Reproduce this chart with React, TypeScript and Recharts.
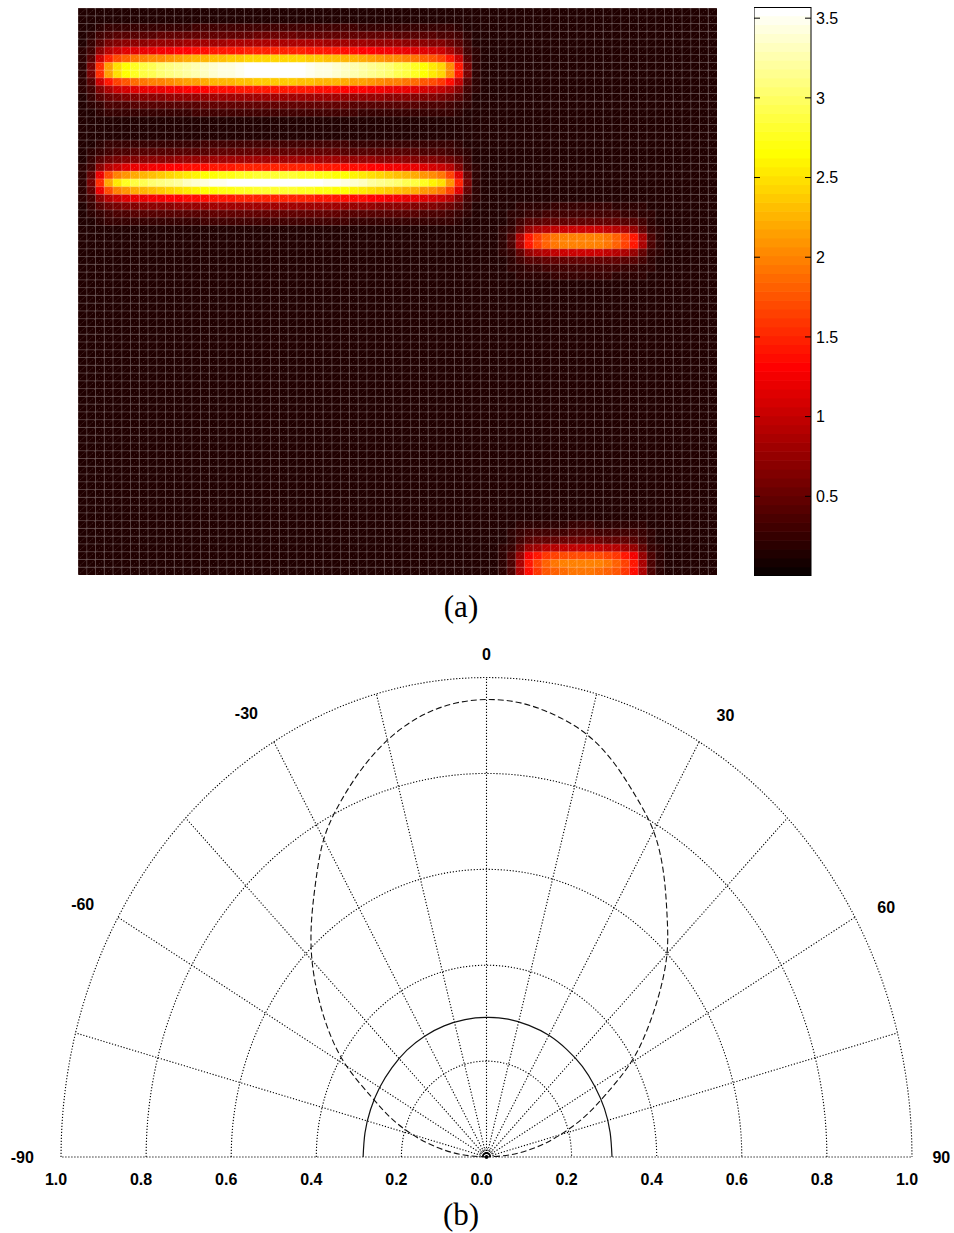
import React from 'react';
import {
  ScatterChart,
  Scatter,
  XAxis,
  YAxis,
  ComposedChart,
  Line,
  ReferenceLine,
  ReferenceDot,
} from 'recharts';

// ---------------- (a) heat map ----------------
const GRID_COLS = 73;
const GRID_ROWS = 73;
const COLOR_MAX = 3.57;
const BACKGROUND_LEVEL = 0.15;
const COLORBAR_TICKS = [0.5, 1, 1.5, 2, 2.5, 3, 3.5];
const COLOR_LEVELS = 64;

// four bright stripes: peak value, first row / first column of their profiles
const STRIPE_PEAKS = [3.55, 3.5, 1.95, 1.85];
const STRIPE_ROW_START = [2, 17, 25, 66];
const STRIPE_COL_START = [0, 0, 48, 48];

const TOP_ROWS = [0.04, 0.1, 0.2, 0.37, 0.64, 0.96, 0.96, 0.62, 0.36, 0.19, 0.09, 0.04];
const MIDDLE_ROWS = [0.04, 0.09, 0.19, 0.38, 0.76, 1.0, 0.76, 0.38, 0.19, 0.09, 0.04];
const RIGHT_ROWS = [0.04, 0.08, 0.18, 0.45, 0.95, 0.95, 0.45, 0.18, 0.08, 0.04];
const BOTTOM_ROWS = [0.04, 0.1, 0.2, 0.45, 0.85, 1.0, 0.95];

const LONG_COLS = [
  0.02, 0.12, 0.4, 0.58, 0.68, 0.74, 0.77, 0.8, 0.82, 0.84, 0.86, 0.88, 0.9, 0.92, 0.93,
  0.95, 0.96, 0.97, 0.98, 0.99, 1, 1, 1, 1, 1, 0.99, 0.98, 0.97, 0.96, 0.95, 0.93, 0.92, 0.9,
  0.88, 0.86, 0.84, 0.82, 0.8, 0.77, 0.74, 0.7, 0.66, 0.56, 0.38, 0.12, 0.02,
];
const SHORT_COLS = [
  0.03, 0.12, 0.4, 0.7, 0.82, 0.9, 0.95, 0.98, 1, 1, 1, 0.98, 0.95, 0.9, 0.82, 0.7, 0.4, 0.12, 0.03,
];

const STRIPE_ROWS = [TOP_ROWS, MIDDLE_ROWS, RIGHT_ROWS, BOTTOM_ROWS];
const STRIPE_COLS = [LONG_COLS, LONG_COLS, SHORT_COLS, SHORT_COLS];

const heatCells: { x: number; y: number; v: number }[] = [];
for (let i = 0; i < GRID_ROWS; i++) {
  for (let j = 0; j < GRID_COLS; j++) {
    let v = BACKGROUND_LEVEL;
    for (let s = 0; s < STRIPE_PEAKS.length; s++) {
      const rw = STRIPE_ROWS[s][i - STRIPE_ROW_START[s]] ?? 0;
      const cw = STRIPE_COLS[s][j - STRIPE_COL_START[s]] ?? 0;
      v += STRIPE_PEAKS[s] * rw * cw;
    }
    heatCells.push({ x: j + 0.5, y: i + 0.5, v });
  }
}

function hotIndexColor(k: number) {
  const r = Math.min(1, (k + 1) / 24);
  const g = k < 24 ? 0 : Math.min(1, (k - 23) / 24);
  const b = k < 48 ? 0 : (k - 47) / 16;
  return `rgb(${Math.round(r * 255)},${Math.round(g * 255)},${Math.round(b * 255)})`;
}
function hotColor(v: number) {
  const k = Math.max(0, Math.min(COLOR_LEVELS - 1, Math.floor((v / COLOR_MAX) * COLOR_LEVELS)));
  return hotIndexColor(k);
}

const HEAT_W = 639;
const HEAT_H = 567;
const CELL_W = HEAT_W / GRID_COLS;
const CELL_H = HEAT_H / GRID_ROWS;
const MESH = 'rgba(255,255,255,0.3)';

const HeatCell = (props: any) => {
  const { cx, cy, payload } = props;
  const x0 = cx - CELL_W / 2;
  const y0 = cy - CELL_H / 2;
  return (
    <g>
      <rect x={x0} y={y0} width={CELL_W + 0.4} height={CELL_H + 0.4} fill={hotColor(payload.v)} />
      <path
        d={`M${x0},${y0 + CELL_H}L${x0},${y0}L${x0 + CELL_W},${y0}`}
        stroke={MESH}
        strokeWidth={0.8}
        fill="none"
      />
      <path
        d={`M${x0},${y0 + CELL_H}L${x0 + CELL_W},${y0}`}
        stroke={MESH}
        strokeWidth={0.8}
        strokeDasharray="1 1.5"
        fill="none"
      />
    </g>
  );
};

// colour bar
const BAR_W = 57;
const BAR_H = 569;
const TICK_LEN = 6;
const colorBandPts = Array.from({ length: COLOR_LEVELS }, (_, k) => ({
  x: 0.5,
  y: ((k + 0.5) * COLOR_MAX) / COLOR_LEVELS,
  fill: hotIndexColor(k),
}));
const colorTickPts = COLORBAR_TICKS.map((t) => ({ x: 0.5, y: t }));
const colorFramePts = [{ x: 0.5, y: COLOR_MAX / 2 }];

const BandRect = (props: any) => {
  const { cx, cy, payload } = props;
  const h = BAR_H / COLOR_LEVELS;
  return <rect x={cx - BAR_W / 2} y={cy - h / 2 - 0.3} width={BAR_W} height={h + 0.6} fill={payload.fill} />;
};
const TickMarks = (props: any) => {
  const { cx, cy } = props;
  const l = cx - BAR_W / 2;
  const r = cx + BAR_W / 2;
  return (
    <path d={`M${l},${cy}H${l + TICK_LEN}M${r - TICK_LEN},${cy}H${r}`} stroke="#000" strokeWidth={1} fill="none" />
  );
};
const FrameRect = (props: any) => {
  const { cx, cy } = props;
  return (
    <rect x={cx - BAR_W / 2} y={cy - BAR_H / 2 + 0.5} width={BAR_W} height={BAR_H - 1} fill="none" stroke="#000" strokeWidth={1} />
  );
};

// ---------------- (b) polar plot ----------------
const GRID_RADII = [0.2, 0.4, 0.6, 0.8, 1.0];
const SPOKE_ANGLES = [-90, -75, -60, -45, -30, -15, 0, 15, 30, 45, 60, 75, 90];
const RADIAL_TICKS = [-1, -0.8, -0.6, -0.4, -0.2, 0, 0.2, 0.4, 0.6, 0.8, 1];
const ANGLE_LABELS = ['-90', '-60', '-30', '0', '30', '60', '90'];
const ANGLE_LABEL_THETA = [-90, -61, -31.4, 0, 31.4, 61, 90];
const ANGLE_LABEL_R = [1.091, 1.085, 1.083, 1.049, 1.078, 1.074, 1.069];

const DASHED_THETA = [
  -90, -85, -80, -75, -70, -65, -60, -55, -50, -45, -40, -35, -30, -25, -20, -15, -10, -5, 0,
  5, 10, 15, 20, 25, 30, 35, 40, 45, 50, 55, 60, 65, 70, 75, 80, 85, 90,
];
const DASHED_R = [
  0, 0.06, 0.12, 0.18, 0.24, 0.3, 0.38, 0.45, 0.515, 0.58, 0.64, 0.7, 0.765, 0.815, 0.86, 0.9, 0.93, 0.948, 0.954,
  0.95, 0.935, 0.912, 0.875, 0.83, 0.785, 0.725, 0.66, 0.6, 0.53, 0.46, 0.39, 0.31, 0.245, 0.18, 0.12, 0.06, 0,
];
const SOLID_THETA = [-90, -80, -70, -60, -50, -40, -30, -20, -10, 0, 10, 20, 30, 40, 50, 60, 70, 80, 90];
const SOLID_R = [
  0.29, 0.29, 0.29, 0.29, 0.29, 0.291, 0.291, 0.291, 0.291, 0.291, 0.292, 0.292, 0.293, 0.293, 0.294, 0.294,
  0.295, 0.295, 0.295,
];
const TINY_SOLID_R = [0.009, 0.009, 0.009, 0.009, 0.009, 0.009, 0.009, 0.009, 0.009, 0.009, 0.009, 0.009, 0.009, 0.009, 0.009, 0.009, 0.009, 0.009, 0.009];
const TINY_DOTTED_R = 0.017;

const rad = (d: number) => (d * Math.PI) / 180;
const toXY = (theta: number[], r: number[]) =>
  theta.map((t, i) => ({ x: r[i] * Math.sin(rad(t)), y: r[i] * Math.cos(rad(t)) }));

const CIRCLE_STEPS: number[] = [];
for (let a = -90; a <= 90; a += 2) CIRCLE_STEPS.push(a);
const circlePts = (r: number) => toXY(CIRCLE_STEPS, CIRCLE_STEPS.map(() => r));

const dashedPts = toXY(DASHED_THETA, DASHED_R);
const solidPts = toXY(SOLID_THETA, SOLID_R);
const tinyPts = toXY(SOLID_THETA, TINY_SOLID_R);

const LABEL_FONT = '"Liberation Sans", Arial, Helvetica, sans-serif';
const GRID_STROKE = '#000';
const GRID_DASH = '1.2 1.8';

const textDot = (text: string) => (props: any) => (
  <text
    x={props.cx}
    y={props.cy}
    textAnchor="middle"
    dominantBaseline="central"
    fontSize={16}
    fontWeight="bold"
    fontFamily={LABEL_FONT}
    fill="#000"
  >
    {text}
  </text>
);

const captionStyle: React.CSSProperties = {
  position: 'absolute',
  left: 0,
  width: 922,
  textAlign: 'center',
  fontFamily: '"Liberation Serif", "Times New Roman", serif',
  fontSize: 31,
  lineHeight: '36px',
};

export default function App() {
  return (
    <div style={{ position: 'absolute', left: 0, top: 0, width: 954, height: 1233, background: '#fff' }}>
      {/* heat map */}
      <div style={{ position: 'absolute', left: 78, top: 8 }}>
        <ScatterChart width={HEAT_W} height={HEAT_H} margin={{ top: 0, right: 0, bottom: 0, left: 0 }}>
          <XAxis type="number" dataKey="x" domain={[0, GRID_COLS]} hide />
          <YAxis type="number" dataKey="y" domain={[0, GRID_ROWS]} reversed hide />
          <Scatter data={heatCells} shape={HeatCell} isAnimationActive={false} />
        </ScatterChart>
      </div>

      {/* colour bar */}
      <div style={{ position: 'absolute', left: 754, top: 7 }}>
        <ScatterChart width={BAR_W + 40} height={BAR_H} margin={{ top: 0, right: 0, bottom: 0, left: 0 }}>
          <XAxis type="number" dataKey="x" domain={[0, 1]} hide />
          <YAxis
            type="number"
            dataKey="y"
            orientation="right"
            domain={[0, COLOR_MAX]}
            ticks={COLORBAR_TICKS}
            tickFormatter={(v: number) => String(v)}
            axisLine={false}
            tickLine={false}
            tickMargin={-1}
            width={40}
            interval={0}
            tick={{ fontSize: 16, fill: '#000', fontFamily: LABEL_FONT }}
          />
          <Scatter data={colorBandPts} shape={BandRect} isAnimationActive={false} />
          <Scatter data={colorTickPts} shape={TickMarks} isAnimationActive={false} />
          <Scatter data={colorFramePts} shape={FrameRect} isAnimationActive={false} />
        </ScatterChart>
      </div>

      <div style={{ ...captionStyle, top: 589 }}>(a)</div>

      {/* polar plot */}
      <div style={{ position: 'absolute', left: 0, top: 630 }}>
        <ComposedChart width={954} height={603} margin={{ top: 47.5, right: 42, bottom: 36, left: 61 }}>
          <XAxis
            type="number"
            dataKey="x"
            domain={[-1, 1]}
            ticks={RADIAL_TICKS}
            tickFormatter={(v: number) => Math.abs(v).toFixed(1)}
            axisLine={false}
            tickLine={false}
            tickMargin={11}
            height={40}
            interval={0}
            tick={{ fontSize: 16, fontWeight: 'bold', fill: '#000', fontFamily: LABEL_FONT, dx: -5 }}
          />
          <YAxis type="number" dataKey="y" domain={[0, 1]} hide />
          {SPOKE_ANGLES.map((a) => (
            <ReferenceLine
              key={'sp' + a}
              segment={[
                { x: 0, y: 0 },
                { x: Math.sin(rad(a)), y: Math.cos(rad(a)) },
              ]}
              stroke={GRID_STROKE}
              strokeWidth={1.1}
              strokeDasharray={GRID_DASH}
              ifOverflow="visible"
            />
          ))}
          {GRID_RADII.map((r) => (
            <Line
              key={'gc' + r}
              data={circlePts(r)}
              dataKey="y"
              type="linear"
              stroke={GRID_STROKE}
              strokeWidth={1.1}
              strokeDasharray={GRID_DASH}
              dot={false}
              activeDot={false}
              isAnimationActive={false}
            />
          ))}
          <Line
            data={circlePts(TINY_DOTTED_R)}
            dataKey="y"
            type="linear"
            stroke={GRID_STROKE}
            strokeDasharray="1 1.5"
            dot={false}
            activeDot={false}
            isAnimationActive={false}
          />
          <Line
            data={dashedPts}
            dataKey="y"
            type="natural"
            stroke="#111"
            strokeWidth={1.1}
            strokeDasharray="6 3"
            dot={false}
            activeDot={false}
            isAnimationActive={false}
          />
          <Line
            data={solidPts}
            dataKey="y"
            type="natural"
            stroke="#111"
            strokeWidth={1.2}
            dot={false}
            activeDot={false}
            isAnimationActive={false}
          />
          <Line
            data={tinyPts}
            dataKey="y"
            type="natural"
            stroke="#000"
            strokeWidth={1.5}
            dot={false}
            activeDot={false}
            isAnimationActive={false}
          />
          <ReferenceDot x={0} y={0} r={1.5} fill="#000" stroke="#000" ifOverflow="visible" />
          {ANGLE_LABELS.map((lab, i) => (
            <ReferenceDot
              key={'al' + lab}
              x={ANGLE_LABEL_R[i] * Math.sin(rad(ANGLE_LABEL_THETA[i]))}
              y={ANGLE_LABEL_R[i] * Math.cos(rad(ANGLE_LABEL_THETA[i]))}
              r={0}
              ifOverflow="visible"
              shape={textDot(lab)}
            />
          ))}
        </ComposedChart>
      </div>

      <div style={{ ...captionStyle, top: 1197 }}>(b)</div>
    </div>
  );
}
